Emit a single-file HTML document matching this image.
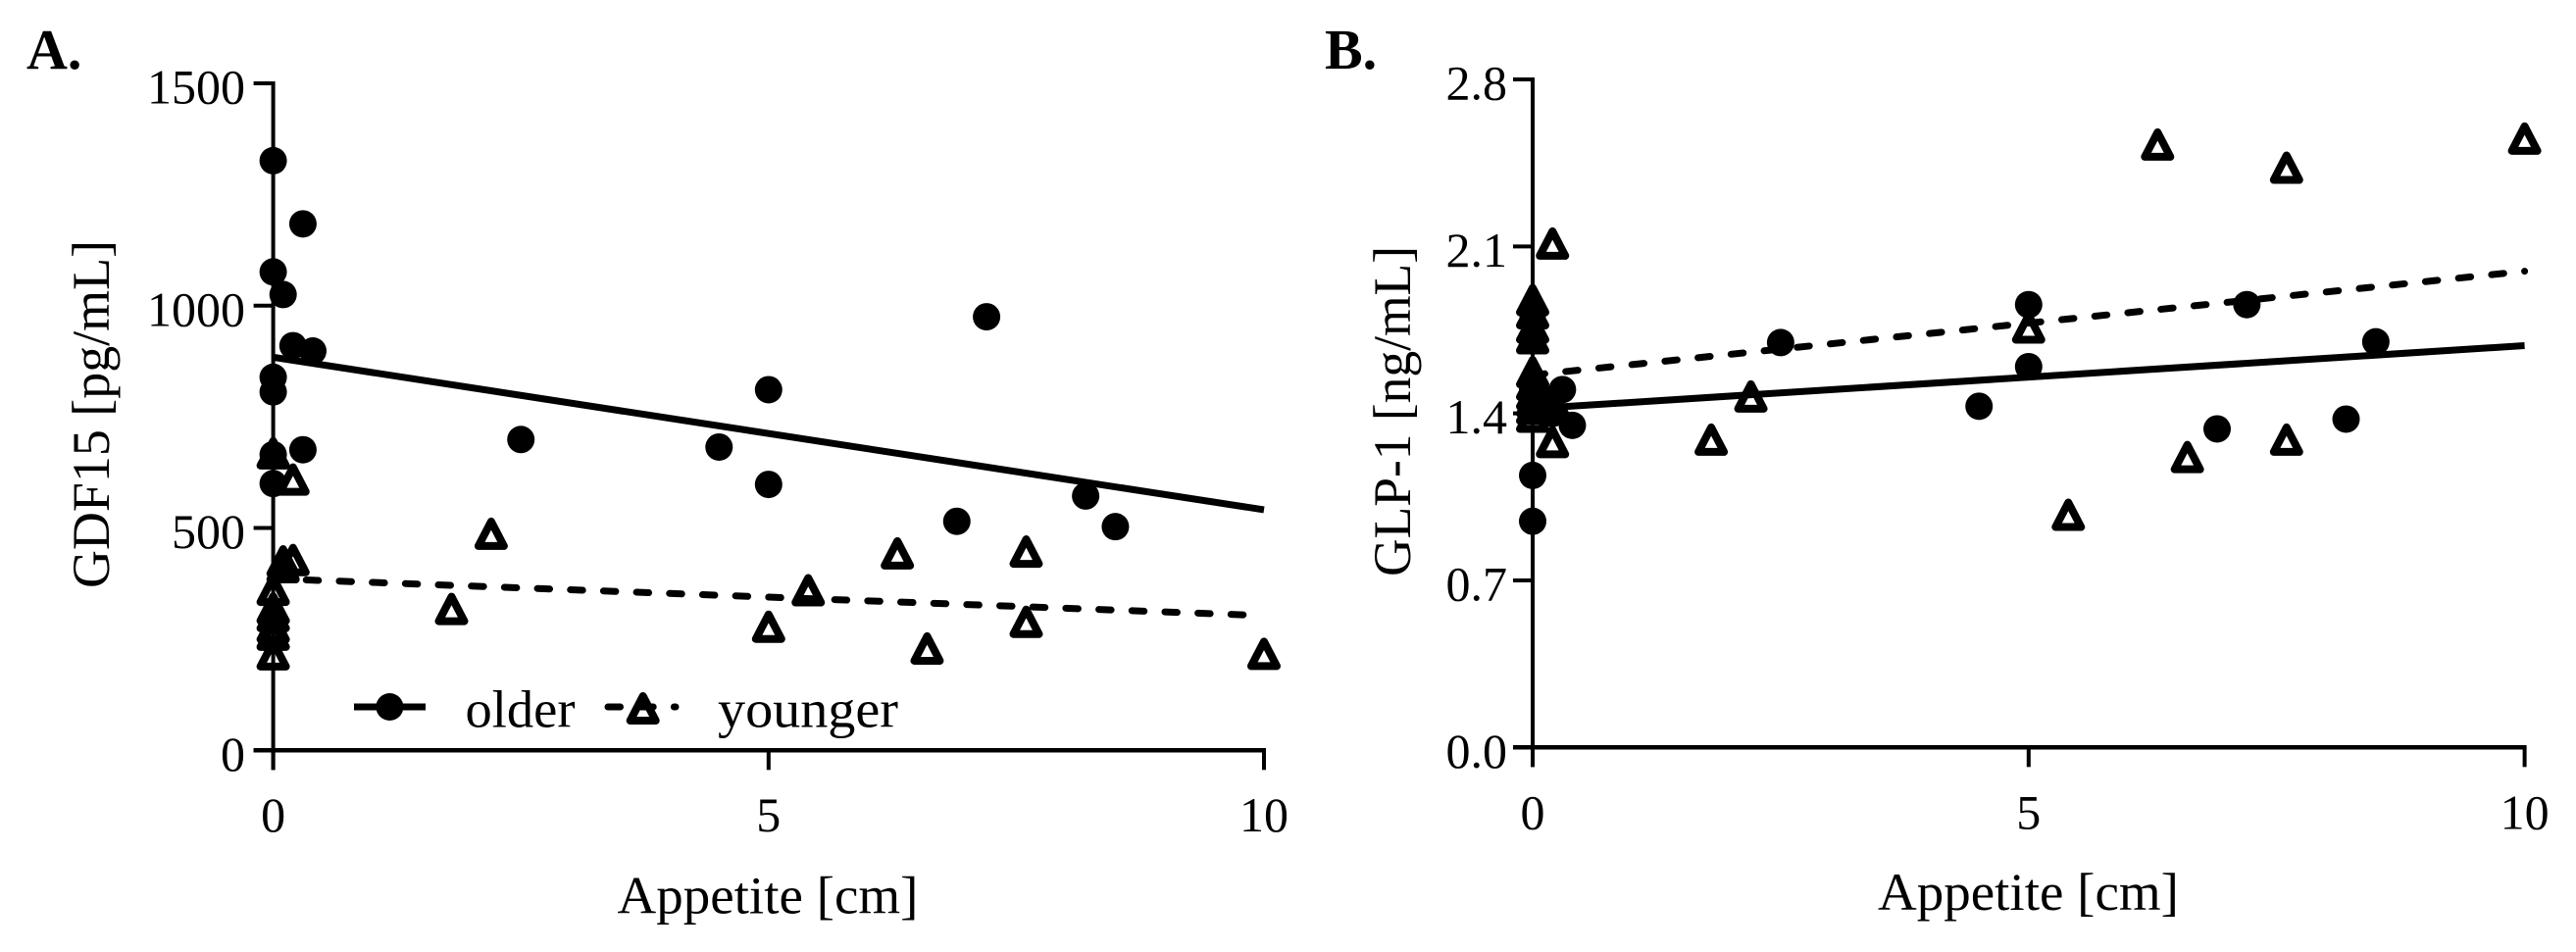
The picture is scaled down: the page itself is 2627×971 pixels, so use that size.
<!DOCTYPE html>
<html lang="en">
<head>
<meta charset="utf-8">
<title>GDF15 and GLP-1 versus appetite</title>
<style>
  html, body { margin: 0; padding: 0; background: #fff; width: 2627px; height: 971px; overflow: hidden; }
  svg { display: block; }
  text { font-family: "Liberation Serif", "DejaVu Serif", serif; fill: #000; }
  .tick { font-size: 50px; }
  .title { font-size: 54px; }
  .letter { font-size: 58px; font-weight: bold; }
</style>
</head>
<body>
<svg id="figure" xmlns="http://www.w3.org/2000/svg" width="2627" height="971" viewBox="0 0 2627 971">
  <rect x="0" y="0" width="2627" height="971" fill="#fff"/>

  <g id="panel-a">
    <text class="letter" x="27" y="70">A.</text>
    <text class="title" transform="translate(111 422.5) rotate(-90)" text-anchor="middle" textLength="355" lengthAdjust="spacingAndGlyphs">GDF15 [pg/mL]</text>
    <text class="title" x="783" y="931.5" text-anchor="middle" textLength="307" lengthAdjust="spacingAndGlyphs">Appetite [cm]</text>
  </g>

  <g id="panel-b">
    <text class="letter" x="1351" y="70">B.</text>
    <text class="title" transform="translate(1438 419.5) rotate(-90)" text-anchor="middle" textLength="337" lengthAdjust="spacingAndGlyphs">GLP-1 [ng/mL]</text>
    <text class="title" x="2068.5" y="928" text-anchor="middle" textLength="307" lengthAdjust="spacingAndGlyphs">Appetite [cm]</text>
  </g>

  <g id="legend">
    <g>
      <line x1="361" y1="721" x2="434" y2="721" stroke="#000" stroke-width="7"/>
      <circle cx="397.4" cy="721" r="14" fill="#000"/>
      <text class="title" x="474.5" y="741.5" textLength="112" lengthAdjust="spacingAndGlyphs">older</text>
    </g>
    <g>
      <line x1="620" y1="721" x2="689" y2="721" stroke="#000" stroke-width="7" stroke-linecap="round" stroke-dasharray="12.5 21.2"/>
      <polygon points="655.7,710 668.7,735 642.7,735" fill="none" stroke="#000" stroke-width="8" stroke-linejoin="round"/>
      <text class="title" x="732" y="741.5" textLength="184" lengthAdjust="spacingAndGlyphs">younger</text>
    </g>
  </g>
</svg>

<script>
// ---- shared tick values ----
var xTickValues = [0, 5, 10];
var xTickLabels = ['0', '5', '10'];

// ---- panel A: GDF15 [pg/mL] vs appetite [cm] ----
var aYTickValues = [0, 500, 1000, 1500];
var aYTickLabels = ['0', '500', '1000', '1500'];
var aOlderX = [0, 0.3, 0, 0.1, 0.2, 0.4, 0, 0, 2.5, 0.3, 0, 0, 7.2, 5, 4.5, 5, 8.2, 6.9, 8.5];
var aOlderY = [1326, 1184, 1076, 1025, 910, 898, 839, 806, 699, 676, 665, 600, 975, 811, 682, 598, 572, 515, 503];
var aYoungerX = [0, 0.2, 0.2, 0.1, 0.1, 0, 0, 0, 0, 0, 0, 2.2, 1.8, 6.3, 7.6, 5.4, 5, 6.6, 7.6, 10];
var aYoungerY = [668, 609, 428, 425, 412, 361, 319, 302, 277, 260, 216, 487, 318, 443, 447, 360, 278, 229, 289, 217];
var aOlderFitX = [0, 10];
var aOlderFitY = [884, 541];
var aYoungerFitX = [0, 10];
var aYoungerFitY = [386, 303];

// ---- panel B: GLP-1 [ng/mL] vs appetite [cm] ----
var bYTickValues = [0, 0.7, 1.4, 2.1, 2.8];
var bYTickLabels = ['0.0', '0.7', '1.4', '2.1', '2.8'];
var bOlderX = [0, 0, 0, 0, 0.1, 0.2, 0.3, 0.4, 0, 0, 2.5, 5, 7.2, 8.5, 5, 4.5, 6.9, 8.2];
var bOlderY = [1.82, 1.72, 1.5, 1.42, 1.45, 1.4, 1.5, 1.35, 1.14, 0.948, 1.697, 1.856, 1.856, 1.7, 1.596, 1.43, 1.335, 1.376];
var bYoungerX = [0, 0, 0, 0, 0, 0, 0, 0, 0, 0, 0.1, 0.2, 0.2, 0.2, 2.2, 1.8, 5, 6.3, 7.6, 10, 7.6, 6.6, 5.4];
var bYoungerY = [1.875, 1.82, 1.76, 1.715, 1.573, 1.52, 1.48, 1.45, 1.42, 1.386, 1.48, 1.45, 2.112, 1.28, 1.471, 1.29, 1.76, 2.527, 2.43, 2.552, 1.29, 1.217, 0.975];
var bOlderFitX = [0, 10];
var bOlderFitY = [1.42, 1.684];
var bYoungerFitX = [0, 10];
var bYoungerFitY = [1.561, 1.996];

var SVG_NS = 'http://www.w3.org/2000/svg';

function makeLinear(originPx, pxPerUnit) {
  return function (v) { return originPx + v * pxPerUnit; };
}

function drawSeg(parent, x1, y1, x2, y2, width) {
  var el = document.createElementNS(SVG_NS, 'line');
  
  
  el.setAttribute('x1', x1);
  el.setAttribute('y1', y1);
  el.setAttribute('x2', x2);
  el.setAttribute('y2', y2);
  el.setAttribute('stroke', '#000');
  el.setAttribute('stroke-width', width);
  parent.appendChild(el);
}

function drawAxes(parent, sx, sy, yTicks, yLabels, yLabelRight, xMaxValue, xLabelBaseline) {
  var x0 = sx(0);
  var y0 = sy(0);
  var top = sy(yTicks[yTicks.length - 1]);
  var axisBottom = y0 + 20;
  var tickLeft = x0 - 20;

  drawSeg(parent, x0, top - 2, x0, axisBottom, 4);
  drawSeg(parent, tickLeft, y0, sx(xMaxValue) + 2, y0, 4.5);

  yTicks.forEach(function (v, i) {
    drawSeg(parent, tickLeft, sy(v), x0, sy(v), 4);
    var t = document.createElementNS(SVG_NS, 'text');
    
    
    t.setAttribute('class', 'tick');
    t.setAttribute('x', yLabelRight);
    t.setAttribute('y', sy(v) + 20.5);
    t.setAttribute('text-anchor', 'end');
    t.textContent = yLabels[i];
    parent.appendChild(t);
  });

  xTickValues.forEach(function (v, i) {
    drawSeg(parent, sx(v), y0, sx(v), axisBottom, 4);
    var t = document.createElementNS(SVG_NS, 'text');
    
    
    t.setAttribute('class', 'tick');
    t.setAttribute('x', sx(v));
    t.setAttribute('y', xLabelBaseline);
    t.setAttribute('text-anchor', 'middle');
    t.textContent = xTickLabels[i];
    parent.appendChild(t);
  });
}

function drawOlderFit(parent, sx, sy, xs, ys) {
  var el = document.createElementNS(SVG_NS, 'line');
  
  
  el.setAttribute('x1', sx(xs[0]));
  el.setAttribute('y1', sy(ys[0]));
  el.setAttribute('x2', sx(xs[1]));
  el.setAttribute('y2', sy(ys[1]));
  el.setAttribute('stroke', '#000');
  el.setAttribute('stroke-width', 7);
  parent.appendChild(el);
}

function drawYoungerFit(parent, sx, sy, xs, ys) {
  var x1 = sx(xs[0]), y1 = sy(ys[0]), x2 = sx(xs[1]), y2 = sy(ys[1]);
  var period = Math.sqrt((x2 - x1) * (x2 - x1) + (y2 - y1) * (y2 - y1)) / 30;
  var el = document.createElementNS(SVG_NS, 'line');
  
  
  el.setAttribute('x1', x1);
  el.setAttribute('y1', y1);
  el.setAttribute('x2', x2);
  el.setAttribute('y2', y2);
  el.setAttribute('stroke', '#000');
  el.setAttribute('stroke-width', 7);
  el.setAttribute('stroke-linecap', 'round');
  el.setAttribute('stroke-dasharray', '12.5 ' + (period - 12.5));
  parent.appendChild(el);
}

function drawOlderPoints(parent, sx, sy, xs, ys) {
  xs.forEach(function (v, i) {
    var el = document.createElementNS(SVG_NS, 'circle');
    
    
    el.setAttribute('cx', sx(v));
    el.setAttribute('cy', sy(ys[i]));
    el.setAttribute('r', 14);
    el.setAttribute('fill', '#000');
    parent.appendChild(el);
  });
}

function drawYoungerPoints(parent, sx, sy, xs, ys) {
  xs.forEach(function (v, i) {
    var cx = sx(v);
    var cy = sy(ys[i]);
    var el = document.createElementNS(SVG_NS, 'polygon');
    
    
    el.setAttribute('points',
      cx + ',' + (cy - 12.5) + ' ' +
      (cx + 13) + ',' + (cy + 12.5) + ' ' +
      (cx - 13) + ',' + (cy + 12.5));
    el.setAttribute('fill', 'none');
    el.setAttribute('stroke', '#000');
    el.setAttribute('stroke-width', 8);
    el.setAttribute('stroke-linejoin', 'round');
    parent.appendChild(el);
  });
}

// Panel A scales and drawing
var aX = makeLinear(278.6, 101.04);
var aY = makeLinear(765.3, -680.3 / 1500);
var panelA = document.getElementById('panel-a');
drawAxes(panelA, aX, aY, aYTickValues, aYTickLabels, 250, 10, 848);
drawOlderFit(panelA, aX, aY, aOlderFitX, aOlderFitY);
drawYoungerFit(panelA, aX, aY, aYoungerFitX, aYoungerFitY);
drawOlderPoints(panelA, aX, aY, aOlderX, aOlderY);
drawYoungerPoints(panelA, aX, aY, aYoungerX, aYoungerY);

// Panel B scales and drawing
var bX = makeLinear(1563, 101.16);
var bY = makeLinear(762.3, -681.3 / 2.8);
var panelB = document.getElementById('panel-b');
drawAxes(panelB, bX, bY, bYTickValues, bYTickLabels, 1537, 10, 845.5);
drawOlderFit(panelB, bX, bY, bOlderFitX, bOlderFitY);
drawYoungerFit(panelB, bX, bY, bYoungerFitX, bYoungerFitY);
drawOlderPoints(panelB, bX, bY, bOlderX, bOlderY);
drawYoungerPoints(panelB, bX, bY, bYoungerX, bYoungerY);
</script>
</body>
</html>
